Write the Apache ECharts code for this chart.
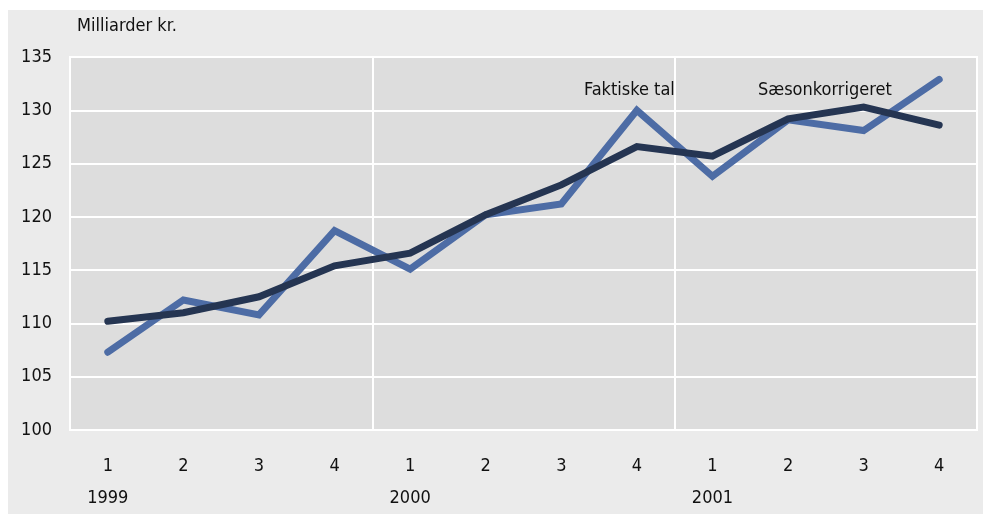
<!DOCTYPE html>
<html><head><meta charset="utf-8">
<script src="https://cdn.jsdelivr.net/npm/echarts@6/dist/echarts.min.js"></script>
<style>html,body{margin:0;padding:0;background:#fff}#c{width:983px;height:514px}</style>
</head><body><div id="c"></div>
<script>
const quarters = ['1','2','3','4','1','2','3','4','1','2','3','4'];
const years = ['1999','','','','2000','','','','2001','','',''];
const faktiske = [107.3, 112.2, 110.8, 118.7, 115.1, 120.2, 121.2, 130.0, 123.8, 129.1, 128.1, 132.9];
const saeson = [110.2, 111.0, 112.5, 115.4, 116.6, 120.2, 123.0, 126.6, 125.7, 129.2, 130.3, 128.6];
const yTicks = [100, 105, 110, 115, 120, 125, 130, 135];
const FONT = '"Liberation Sans Narrow", "DejaVu Sans Condensed", "Noto Sans", sans-serif';

const chart = echarts.init(document.getElementById('c'));
chart.setOption({
  animation: false,
  textStyle: { fontFamily: FONT },
  graphic: [
    { type: 'rect', z: -100, silent: true, shape: { x: 8, y: 10, width: 975, height: 504 }, style: { fill: '#ebebeb' } },
    { type: 'text', left: 77, top: 17, style: { text: 'Milliarder kr.', fontSize: 18, fontFamily: FONT, fill: '#111' } },
    { type: 'text', left: 584, top: 81, style: { text: 'Faktiske tal', fontSize: 18, fontFamily: FONT, fill: '#111' } },
    { type: 'text', left: 758, top: 81, style: { text: 'Sæsonkorrigeret', fontSize: 18, fontFamily: FONT, fill: '#111' } }
  ],
  grid: { left: 70, top: 57, right: 6, bottom: 84, outerBoundsMode: 'none', containLabel: false, show: true, backgroundColor: '#dddddd', borderColor: '#ffffff', borderWidth: 2 },
  xAxis: {
    type: 'category', data: quarters, boundaryGap: true,
    axisLine: { show: false }, axisTick: { show: false },
    axisLabel: {
      interval: 0, margin: 20, color: '#111', fontSize: 18, lineHeight: 32, fontFamily: FONT,
      formatter: (v, i) => years[i] ? v + '\n' + years[i] : v
    },
    splitLine: { show: true, interval: (i) => i % 4 === 0, lineStyle: { color: '#ffffff', width: 2 } }
  },
  yAxis: {
    type: 'value', min: yTicks[0], max: yTicks[yTicks.length - 1], interval: 5,
    axisLine: { show: false }, axisTick: { show: false },
    axisLabel: { margin: 18, color: '#111', fontSize: 18, fontFamily: FONT },
    splitLine: { show: true, lineStyle: { color: '#ffffff', width: 2 } }
  },
  series: [
    { name: 'Faktiske tal', type: 'line', data: faktiske, symbol: 'none', lineStyle: { color: '#4d6ca5', width: 7, cap: 'round', join: 'miter' }, z: 2 },
    { name: 'Sæsonkorrigeret', type: 'line', data: saeson, symbol: 'none', lineStyle: { color: '#253552', width: 7, cap: 'round', join: 'miter' }, z: 3 }
  ]
});
</script></body></html>
